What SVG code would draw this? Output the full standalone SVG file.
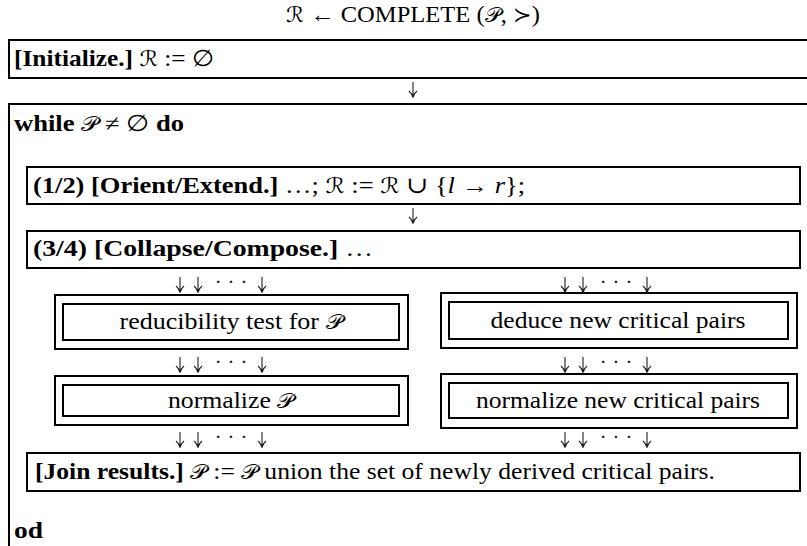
<svg xmlns="http://www.w3.org/2000/svg" width="807" height="546" viewBox="0 0 807 546">
<style>
  .box{fill:none;stroke:#000;stroke-width:2}
  .t{font-family:"Liberation Serif","DejaVu Serif",serif;font-size:23px;fill:#000}
  .b{font-weight:bold}
  .i{font-style:italic}
  .m{font-family:"DejaVu Serif","DejaVu Sans",serif;font-size:21px}
  .c{text-anchor:middle}
  .arr{fill:none;stroke:#222;stroke-width:1.1}
  .dots{font-family:"Liberation Serif",serif;font-size:22px;fill:#222;text-anchor:middle}
</style>
<defs>
  <path id="dn" d="M0,0 V15 M-4,9 Q-1,11.5 0,15.5 Q1,11.5 4,9"/>
</defs>
<rect width="807" height="546" fill="#fff"/>
<text id="title" class="t" x="286" y="22" textLength="254" lengthAdjust="spacingAndGlyphs"><tspan class="m">ℛ</tspan> ← COMPLETE (<tspan class="m">𝒫</tspan>, <tspan class="m">≻</tspan>)</text>
<g id="initialize">
  <path class="box" d="M808,40 H9 V78 H808"/>
  <text class="t" x="14" y="66" textLength="200" lengthAdjust="spacingAndGlyphs"><tspan class="b">[Initialize.]</tspan> <tspan class="m">ℛ</tspan> := ∅</text>
</g>
<g id="while">
  <path class="box" d="M808,104 H9 V547"/>
  <text class="t" x="14" y="131" textLength="170" lengthAdjust="spacingAndGlyphs"><tspan class="b">while</tspan> <tspan class="m">𝒫</tspan> ≠ ∅ <tspan class="b">do</tspan></text>
  <text class="t b" x="14" y="538" textLength="29" lengthAdjust="spacingAndGlyphs">od</text>
</g>
<g id="orient">
  <rect class="box" x="27" y="167" width="773" height="37"/>
  <text class="t" x="33" y="193" textLength="492" lengthAdjust="spacingAndGlyphs"><tspan class="b">(1/2) [Orient/Extend.]</tspan> …; <tspan class="m">ℛ</tspan> := <tspan class="m">ℛ</tspan> ∪ {<tspan class="i">l</tspan> → <tspan class="i">r</tspan>};</text>
</g>
<g id="collapse">
  <rect class="box" x="27" y="231" width="773" height="37"/>
  <text class="t" x="33" y="256" textLength="340" lengthAdjust="spacingAndGlyphs"><tspan class="b">(3/4) [Collapse/Compose.]</tspan> …</text>
</g>
<g id="reducibility">
  <rect class="box" x="55" y="295" width="353" height="54"/>
  <rect class="box" x="63" y="304" width="336" height="36"/>
  <text class="t c" x="231" y="329" textLength="223" lengthAdjust="spacingAndGlyphs">reducibility test for <tspan class="m">𝒫</tspan></text>
</g>
<g id="normalizeP">
  <rect class="box" x="55" y="376" width="353" height="49"/>
  <rect class="box" x="63" y="385" width="336" height="31"/>
  <text class="t c" x="231" y="408" textLength="126" lengthAdjust="spacingAndGlyphs">normalize <tspan class="m">𝒫</tspan></text>
</g>
<g id="deduce">
  <rect class="box" x="441" y="293" width="356" height="55"/>
  <rect class="box" x="449" y="302" width="339" height="37"/>
  <text class="t c" x="618" y="328" textLength="255" lengthAdjust="spacingAndGlyphs">deduce new critical pairs</text>
</g>
<g id="normalizeCP">
  <rect class="box" x="441" y="374" width="356" height="54"/>
  <rect class="box" x="449" y="383" width="339" height="35"/>
  <text class="t c" x="618" y="408" textLength="284" lengthAdjust="spacingAndGlyphs">normalize new critical pairs</text>
</g>
<g id="join">
  <rect class="box" x="27" y="453" width="773" height="38"/>
  <text class="t" x="35" y="479" textLength="680" lengthAdjust="spacingAndGlyphs"><tspan class="b">[Join results.]</tspan> <tspan class="m">𝒫</tspan> := <tspan class="m">𝒫</tspan> union the set of newly derived critical pairs.</text>
</g>
<g id="connectors" class="arr">
  <use href="#dn" x="413" y="82"/>
  <use href="#dn" x="413" y="208"/>
  <use href="#dn" x="180" y="277"/>
  <use href="#dn" x="198" y="277"/>
  <use href="#dn" x="262" y="277"/>
  <use href="#dn" x="565" y="277"/>
  <use href="#dn" x="583" y="277"/>
  <use href="#dn" x="647" y="277"/>
  <use href="#dn" x="180" y="357"/>
  <use href="#dn" x="198" y="357"/>
  <use href="#dn" x="262" y="357"/>
  <use href="#dn" x="565" y="357"/>
  <use href="#dn" x="583" y="357"/>
  <use href="#dn" x="647" y="357"/>
  <use href="#dn" x="180" y="432"/>
  <use href="#dn" x="198" y="432"/>
  <use href="#dn" x="262" y="432"/>
  <use href="#dn" x="565" y="432"/>
  <use href="#dn" x="583" y="432"/>
  <use href="#dn" x="647" y="432"/>
</g>
<g id="ellipses" class="dots">
  <text x="231" y="289">· · ·</text>
  <text x="616" y="289">· · ·</text>
  <text x="231" y="369">· · ·</text>
  <text x="616" y="369">· · ·</text>
  <text x="231" y="444">· · ·</text>
  <text x="616" y="444">· · ·</text>
</g>
</svg>
